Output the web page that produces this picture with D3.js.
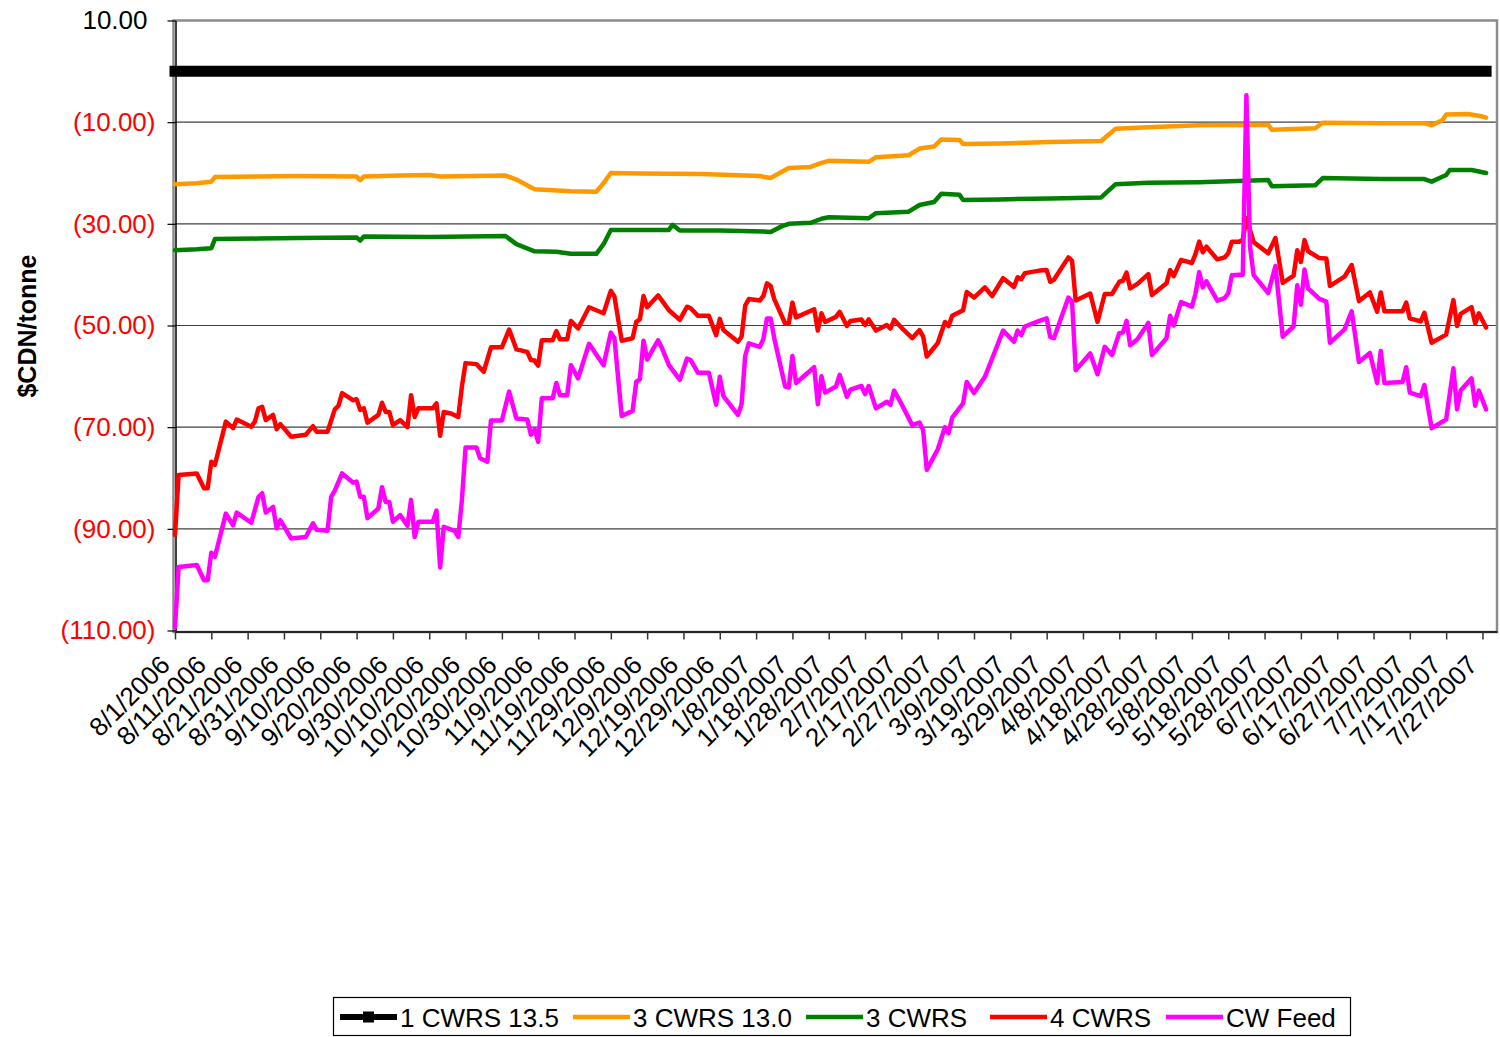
<!DOCTYPE html>
<html>
<head>
<meta charset="utf-8">
<script src="https://cdn.jsdelivr.net/npm/d3@7.9.0/dist/d3.min.js"></script>
<style>
  html, body { margin: 0; padding: 0; background: #fff; }
  svg { display: block; font-family: "Liberation Sans", Arial, sans-serif; }
</style>
</head>
<body>
<div id="chart"></div>
<script>
// wheat price spreads, $CDN/tonne
const cwrs135 = [["8/1/2006", 0], ["7/28/2007", 0]];

const cwrs3_130 = [
  ["8/1/2006",-22.2],["8/7/2006",-22.0],["8/11/2006",-21.7],["8/12/2006",-20.8],["8/24/2006",-20.7],["9/4/2006",-20.6],
  ["9/20/2006",-20.7],["9/21/2006",-21.4],["9/22/2006",-20.7],["10/2/2006",-20.5],["10/10/2006",-20.4],["10/13/2006",-20.7],
  ["10/31/2006",-20.5],["11/3/2006",-21.3],["11/8/2006",-23.2],["11/18/2006",-23.6],["11/25/2006",-23.7],["11/27/2006",-22.0],
  ["11/29/2006",-20.0],["12/7/2006",-20.1],["12/24/2006",-20.2],["1/9/2007",-20.6],["1/12/2007",-21.0],["1/14/2007",-20.2],
  ["1/17/2007",-19.0],["1/23/2007",-18.8],["1/26/2007",-18.0],["1/28/2007",-17.6],["2/8/2007",-17.8],["2/10/2007",-16.9],
  ["2/19/2007",-16.5],["2/22/2007",-15.2],["2/26/2007",-14.8],["2/28/2007",-13.4],["3/5/2007",-13.5],["3/6/2007",-14.3],
  ["3/16/2007",-14.2],["3/30/2007",-13.9],["4/13/2007",-13.7],["4/17/2007",-11.3],["4/26/2007",-11.0],["5/10/2007",-10.6],
  ["5/29/2007",-10.5],["5/30/2007",-11.5],["6/11/2007",-11.2],["6/13/2007",-10.1],["6/29/2007",-10.2],["7/11/2007",-10.2],
  ["7/13/2007",-10.6],["7/16/2007",-9.6],["7/17/2007",-8.5],["7/23/2007",-8.4],["7/27/2007",-8.9],["7/28/2007",-9.1]
];

const cwrs3 = [
  ["8/1/2006",-35.2],["8/7/2006",-35.0],["8/11/2006",-34.8],["8/12/2006",-33.0],["8/24/2006",-32.9],["9/4/2006",-32.8],
  ["9/20/2006",-32.7],["9/21/2006",-33.3],["9/22/2006",-32.5],["10/10/2006",-32.6],["10/31/2006",-32.4],["11/3/2006",-34.0],
  ["11/8/2006",-35.4],["11/14/2006",-35.5],["11/18/2006",-35.9],["11/25/2006",-35.9],["11/27/2006",-34.0],["11/29/2006",-31.2],
  ["12/15/2006",-31.2],["12/16/2006",-30.2],["12/18/2006",-31.3],["12/29/2006",-31.3],["1/10/2007",-31.5],["1/12/2007",-31.6],
  ["1/15/2007",-30.5],["1/17/2007",-30.0],["1/23/2007",-29.8],["1/26/2007",-29.0],["1/28/2007",-28.7],["2/8/2007",-28.9],
  ["2/10/2007",-27.9],["2/19/2007",-27.6],["2/22/2007",-26.3],["2/26/2007",-25.7],["2/28/2007",-24.1],["3/5/2007",-24.3],
  ["3/6/2007",-25.3],["3/16/2007",-25.2],["3/30/2007",-25.0],["4/13/2007",-24.8],["4/17/2007",-22.2],["4/26/2007",-21.9],
  ["5/10/2007",-21.8],["5/29/2007",-21.4],["5/30/2007",-22.6],["6/11/2007",-22.4],["6/13/2007",-21.0],["6/29/2007",-21.2],
  ["7/11/2007",-21.2],["7/13/2007",-21.7],["7/17/2007",-20.4],["7/18/2007",-19.4],["7/24/2007",-19.4],["7/26/2007",-19.7],
  ["7/28/2007",-20.0]
];

const cwrs4 = [
  ["8/1/2006",-91.2],["8/2/2006",-79.4],["8/7/2006",-79.1],["8/9/2006",-82.0],["8/10/2006",-82.0],["8/11/2006",-76.8],
  ["8/12/2006",-77.4],["8/15/2006",-68.9],["8/17/2006",-70.2],["8/18/2006",-68.5],["8/22/2006",-69.9],["8/23/2006",-68.9],
  ["8/24/2006",-66.3],["8/25/2006",-66.0],["8/26/2006",-68.6],["8/28/2006",-67.6],["8/29/2006",-70.4],["8/30/2006",-69.4],
  ["9/2/2006",-71.9],["9/6/2006",-71.5],["9/8/2006",-69.8],["9/9/2006",-70.9],["9/12/2006",-70.9],["9/14/2006",-66.5],
  ["9/15/2006",-65.8],["9/16/2006",-63.3],["9/19/2006",-64.7],["9/20/2006",-64.5],["9/21/2006",-66.6],["9/22/2006",-66.3],
  ["9/23/2006",-69.1],["9/26/2006",-67.6],["9/27/2006",-65.2],["9/28/2006",-67.0],["9/29/2006",-67.0],["9/30/2006",-69.6],
  ["10/2/2006",-68.6],["10/4/2006",-70.0],["10/5/2006",-63.7],["10/6/2006",-68.0],["10/7/2006",-66.3],["10/11/2006",-66.3],
  ["10/12/2006",-65.3],["10/13/2006",-71.7],["10/14/2006",-67.0],["10/16/2006",-67.3],["10/18/2006",-68.0],["10/19/2006",-62.0],
  ["10/20/2006",-57.4],["10/23/2006",-57.6],["10/25/2006",-59.1],["10/27/2006",-54.3],["10/30/2006",-54.3],["11/1/2006",-50.8],
  ["11/3/2006",-54.7],["11/6/2006",-55.2],["11/7/2006",-56.8],["11/8/2006",-56.9],["11/9/2006",-57.9],["11/10/2006",-52.9],
  ["11/13/2006",-52.9],["11/14/2006",-51.1],["11/15/2006",-52.7],["11/17/2006",-52.7],["11/18/2006",-49.1],["11/20/2006",-50.6],
  ["11/23/2006",-46.4],["11/27/2006",-47.6],["11/29/2006",-43.2],["11/30/2006",-44.3],["12/2/2006",-53.0],["12/5/2006",-52.5],
  ["12/6/2006",-49.3],["12/7/2006",-48.8],["12/8/2006",-44.2],["12/9/2006",-46.4],["12/12/2006",-44.1],["12/13/2006",-45.0],
  ["12/15/2006",-47.0],["12/18/2006",-48.9],["12/20/2006",-46.3],["12/21/2006",-46.6],["12/23/2006",-48.1],["12/26/2006",-48.1],
  ["12/28/2006",-51.9],["12/29/2006",-48.7],["12/30/2006",-50.9],["1/3/2007",-53.2],["1/4/2007",-52.2],["1/5/2007",-46.1],
  ["1/6/2007",-44.8],["1/9/2007",-45.1],["1/10/2007",-44.2],["1/11/2007",-41.7],["1/12/2007",-42.2],["1/13/2007",-44.8],
  ["1/16/2007",-49.6],["1/17/2007",-49.6],["1/18/2007",-45.5],["1/19/2007",-48.4],["1/24/2007",-46.8],["1/25/2007",-51.0],
  ["1/26/2007",-47.6],["1/27/2007",-49.3],["1/30/2007",-48.3],["1/31/2007",-47.3],["2/2/2007",-50.1],["2/3/2007",-49.1],
  ["2/6/2007",-48.8],["2/7/2007",-49.9],["2/8/2007",-48.8],["2/10/2007",-51.0],["2/13/2007",-49.9],["2/14/2007",-50.6],
  ["2/15/2007",-48.9],["2/17/2007",-50.4],["2/20/2007",-52.5],["2/22/2007",-50.9],["2/23/2007",-52.2],["2/24/2007",-56.1],
  ["2/27/2007",-53.5],["3/1/2007",-49.3],["3/2/2007",-50.1],["3/3/2007",-48.1],["3/6/2007",-47.0],["3/7/2007",-43.4],
  ["3/9/2007",-44.5],["3/12/2007",-42.5],["3/14/2007",-44.2],["3/17/2007",-40.7],["3/20/2007",-42.4],["3/21/2007",-40.5],
  ["3/22/2007",-40.9],["3/23/2007",-39.7],["3/27/2007",-39.2],["3/29/2007",-39.1],["3/30/2007",-41.4],["3/31/2007",-41.0],
  ["4/2/2007",-38.8],["4/4/2007",-36.6],["4/5/2007",-37.3],["4/6/2007",-45.1],["4/10/2007",-43.7],["4/12/2007",-49.3],
  ["4/14/2007",-43.8],["4/16/2007",-43.8],["4/18/2007",-41.4],["4/19/2007",-41.2],["4/20/2007",-39.6],["4/21/2007",-42.7],
  ["4/23/2007",-41.8],["4/26/2007",-39.9],["4/27/2007",-44.0],["5/1/2007",-41.7],["5/2/2007",-39.1],["5/3/2007",-40.3],
  ["5/5/2007",-37.1],["5/8/2007",-37.7],["5/9/2007",-35.9],["5/10/2007",-33.5],["5/11/2007",-35.6],["5/12/2007",-34.5],
  ["5/15/2007",-37.0],["5/17/2007",-36.6],["5/18/2007",-35.8],["5/19/2007",-33.5],["5/21/2007",-33.5],["5/22/2007",-33.2],
  ["5/23/2007",-28.9],["5/25/2007",-33.6],["5/29/2007",-35.8],["5/31/2007",-32.8],["6/2/2007",-41.6],["6/5/2007",-40.2],
  ["6/6/2007",-35.2],["6/7/2007",-37.5],["6/8/2007",-33.2],["6/9/2007",-35.4],["6/12/2007",-36.7],["6/14/2007",-36.8],
  ["6/15/2007",-42.2],["6/19/2007",-40.4],["6/21/2007",-38.1],["6/23/2007",-45.2],["6/26/2007",-43.5],["6/28/2007",-47.3],
  ["6/29/2007",-43.5],["6/30/2007",-47.2],["7/5/2007",-47.2],["7/6/2007",-45.5],["7/7/2007",-48.6],["7/10/2007",-49.2],
  ["7/11/2007",-47.5],["7/13/2007",-53.4],["7/17/2007",-51.8],["7/19/2007",-45.0],["7/20/2007",-50.1],["7/21/2007",-47.7],
  ["7/24/2007",-46.4],["7/25/2007",-49.6],["7/26/2007",-47.6],["7/28/2007",-50.4]
];

const cwFeed = [
  ["8/1/2006",-109.4],["8/2/2006",-97.5],["8/7/2006",-97.1],["8/9/2006",-100.1],["8/10/2006",-100.1],["8/11/2006",-94.7],
  ["8/12/2006",-95.5],["8/15/2006",-87.0],["8/17/2006",-89.3],["8/18/2006",-86.8],["8/22/2006",-88.8],["8/24/2006",-83.7],
  ["8/25/2006",-83.0],["8/26/2006",-86.8],["8/28/2006",-85.7],["8/29/2006",-89.9],["8/30/2006",-88.3],["9/2/2006",-91.9],
  ["9/6/2006",-91.6],["9/8/2006",-88.9],["9/9/2006",-90.2],["9/12/2006",-90.4],["9/13/2006",-83.7],["9/14/2006",-82.5],
  ["9/16/2006",-79.1],["9/19/2006",-80.9],["9/20/2006",-80.7],["9/21/2006",-83.7],["9/22/2006",-83.7],["9/23/2006",-87.9],
  ["9/26/2006",-86.0],["9/27/2006",-81.8],["9/28/2006",-84.7],["9/29/2006",-84.7],["9/30/2006",-88.6],["10/2/2006",-87.3],
  ["10/4/2006",-89.4],["10/5/2006",-84.3],["10/6/2006",-91.6],["10/7/2006",-88.6],["10/11/2006",-88.6],["10/12/2006",-86.4],
  ["10/13/2006",-97.6],["10/14/2006",-89.6],["10/17/2006",-90.4],["10/18/2006",-91.6],["10/19/2006",-84.3],["10/20/2006",-74.0],
  ["10/23/2006",-74.0],["10/24/2006",-76.1],["10/26/2006",-76.8],["10/27/2006",-68.7],["10/30/2006",-68.7],["11/1/2006",-63.0],
  ["11/3/2006",-68.3],["11/6/2006",-68.5],["11/7/2006",-71.5],["11/8/2006",-70.4],["11/9/2006",-72.9],["11/10/2006",-64.3],
  ["11/13/2006",-64.3],["11/14/2006",-61.3],["11/15/2006",-63.7],["11/17/2006",-63.7],["11/18/2006",-57.8],["11/20/2006",-60.4],
  ["11/23/2006",-53.6],["11/27/2006",-57.8],["11/29/2006",-51.4],["11/30/2006",-52.5],["12/2/2006",-67.8],["12/5/2006",-66.8],
  ["12/6/2006",-61.1],["12/7/2006",-60.6],["12/8/2006",-53.0],["12/9/2006",-56.7],["12/12/2006",-52.9],["12/13/2006",-54.3],
  ["12/15/2006",-57.8],["12/18/2006",-60.7],["12/20/2006",-56.5],["12/21/2006",-56.8],["12/23/2006",-59.3],["12/26/2006",-59.3],
  ["12/28/2006",-65.6],["12/29/2006",-60.1],["12/30/2006",-63.9],["1/3/2007",-67.6],["1/4/2007",-65.5],["1/5/2007",-56.0],
  ["1/6/2007",-53.5],["1/9/2007",-54.2],["1/10/2007",-52.7],["1/11/2007",-48.6],["1/12/2007",-48.6],["1/13/2007",-52.5],
  ["1/16/2007",-62.0],["1/17/2007",-62.2],["1/18/2007",-56.0],["1/19/2007",-61.3],["1/24/2007",-58.2],["1/25/2007",-65.5],
  ["1/26/2007",-60.0],["1/27/2007",-63.2],["1/30/2007",-62.0],["1/31/2007",-59.7],["2/2/2007",-64.0],["2/3/2007",-62.6],
  ["2/6/2007",-61.9],["2/7/2007",-63.5],["2/8/2007",-61.9],["2/10/2007",-66.3],["2/13/2007",-65.0],["2/14/2007",-65.6],
  ["2/15/2007",-62.8],["2/17/2007",-65.4],["2/20/2007",-69.6],["2/22/2007",-69.1],["2/23/2007",-70.6],["2/24/2007",-78.4],
  ["2/27/2007",-74.4],["3/1/2007",-70.0],["3/2/2007",-71.2],["3/3/2007",-68.1],["3/6/2007",-65.3],["3/7/2007",-61.1],
  ["3/9/2007",-63.3],["3/12/2007",-60.1],["3/14/2007",-56.5],["3/17/2007",-51.0],["3/20/2007",-53.2],["3/21/2007",-51.0],
  ["3/22/2007",-51.9],["3/23/2007",-50.2],["3/27/2007",-49.1],["3/29/2007",-48.6],["3/30/2007",-52.3],["3/31/2007",-52.5],
  ["4/4/2007",-44.5],["4/5/2007",-45.3],["4/6/2007",-58.8],["4/10/2007",-55.5],["4/12/2007",-59.6],["4/14/2007",-54.2],
  ["4/16/2007",-55.8],["4/18/2007",-51.5],["4/19/2007",-51.4],["4/20/2007",-49.1],["4/21/2007",-53.9],["4/23/2007",-52.7],
  ["4/26/2007",-49.5],["4/27/2007",-55.8],["5/1/2007",-52.5],["5/2/2007",-48.1],["5/3/2007",-50.0],["5/5/2007",-45.4],
  ["5/8/2007",-46.3],["5/9/2007",-43.7],["5/10/2007",-39.5],["5/11/2007",-42.5],["5/12/2007",-41.3],["5/15/2007",-45.1],
  ["5/17/2007",-44.6],["5/18/2007",-43.7],["5/19/2007",-40.1],["5/21/2007",-40.0],["5/22/2007",-40.0],["5/23/2007",-4.7],
  ["5/24/2007",-34.5],["5/25/2007",-40.1],["5/29/2007",-43.6],["5/31/2007",-38.3],["6/2/2007",-52.2],["6/5/2007",-50.2],
  ["6/6/2007",-42.1],["6/7/2007",-45.9],["6/8/2007",-39.0],["6/9/2007",-42.7],["6/12/2007",-44.7],["6/14/2007",-45.3],
  ["6/15/2007",-53.4],["6/19/2007",-50.8],["6/21/2007",-47.2],["6/23/2007",-57.2],["6/26/2007",-55.4],["6/28/2007",-61.3],
  ["6/29/2007",-55.0],["6/30/2007",-61.3],["7/5/2007",-61.1],["7/6/2007",-58.2],["7/7/2007",-63.2],["7/10/2007",-63.9],
  ["7/11/2007",-61.7],["7/13/2007",-70.2],["7/17/2007",-68.5],["7/19/2007",-58.4],["7/20/2007",-66.5],["7/21/2007",-62.8],
  ["7/24/2007",-60.4],["7/25/2007",-65.8],["7/26/2007",-62.8],["7/28/2007",-66.5]
];

const xTickLabels = [
  "8/1/2006","8/11/2006","8/21/2006","8/31/2006","9/10/2006","9/20/2006","9/30/2006","10/10/2006","10/20/2006",
  "10/30/2006","11/9/2006","11/19/2006","11/29/2006","12/9/2006","12/19/2006","12/29/2006","1/8/2007","1/18/2007",
  "1/28/2007","2/7/2007","2/17/2007","2/27/2007","3/9/2007","3/19/2007","3/29/2007","4/8/2007","4/18/2007",
  "4/28/2007","5/8/2007","5/18/2007","5/28/2007","6/7/2007","6/17/2007","6/27/2007","7/7/2007","7/17/2007","7/27/2007"
];
const yTicks = [10, -10, -30, -50, -70, -90, -110];
const xDomain = ["8/1/2006", "7/31/2007"];
const yDomain = [-110, 10];

const seriesNames = ["1 CWRS 13.5", "3 CWRS 13.0", "3 CWRS", "4 CWRS", "CW Feed"];
const seriesColors = ["#000000", "#FF9900", "#008000", "#FF0000", "#FF00FF"];

const parse = d3.timeParse("%m/%d/%Y");
const width = 1500, height = 1037;
const plot = { left: 175, right: 1497, top: 20.5, bottom: 630.5 };

const svg = d3.select('#chart').append('svg')
  .attr('width', width)
  .attr('height', height);

const x = d3.scaleTime().domain(xDomain.map(parse)).range([plot.left, plot.right]);
const y = d3.scaleLinear().domain(yDomain).range([plot.bottom, plot.top]);

// gridlines
svg.append('g')
  .selectAll('line')
  .data(yTicks.filter(d => d !== 10 && d !== -110))
  .join('line')
  .attr('x1', plot.left).attr('x2', plot.right)
  .attr('y1', d => y(d)).attr('y2', d => y(d))
  .attr('stroke', '#404040')
  .attr('stroke-width', 1.2);

// plot frame
svg.append('rect')
  .attr('x', plot.left - 1.5).attr('y', plot.top)
  .attr('width', plot.right - plot.left + 1.5)
  .attr('height', plot.bottom - plot.top + 1.5)
  .attr('fill', 'none')
  .attr('stroke', '#8c8c8c')
  .attr('stroke-width', 2.5);

// y axis
const fmt = d3.format('.2f');
const yAxis = svg.append('g')
  .attr('transform', `translate(${plot.left + 0.5},0)`)
  .call(d3.axisLeft(y).tickValues(yTicks).tickSize(8).tickSizeOuter(0)
    .tickFormat(d => d < 0 ? `(${fmt(-d)})` : fmt(d)));
yAxis.select('.domain').attr('stroke', '#000').attr('stroke-width', 1.5);
yAxis.selectAll('.tick line').attr('stroke', '#000').attr('stroke-width', 1.2);
yAxis.selectAll('.tick text')
  .attr('x', d => d < 0 ? -20 : -28)
  .attr('font-size', 26)
  .attr('fill', d => d < 0 ? '#FF0000' : '#000');

// x axis
const tickDates = xTickLabels.map(parse);
const xAxis = svg.append('g')
  .attr('transform', `translate(0,${plot.bottom + 1})`)
  .call(d3.axisBottom(x).tickValues(tickDates).tickSize(8).tickSizeOuter(0)
    .tickFormat((d, i) => xTickLabels[i]));
xAxis.select('.domain').attr('stroke', '#000').attr('stroke-width', 1.5);
xAxis.selectAll('.tick line').attr('stroke', '#333').attr('stroke-width', 1.5);
xAxis.selectAll('.tick text')
  .attr('font-size', 26)
  .attr('fill', '#000')
  .attr('text-anchor', 'end')
  .attr('dy', 0)
  .attr('y', 0)
  .attr('transform', 'translate(-4,35) rotate(-45)');

// y title
svg.append('text')
  .attr('transform', 'translate(36,326) rotate(-90)')
  .attr('text-anchor', 'middle')
  .attr('font-size', 25)
  .attr('font-weight', 'bold')
  .text('$CDN/tonne');

// series
const line = d3.line()
  .x(d => x(parse(d[0])))
  .y(d => y(d[1]));

const allSeries = [cwrs135, cwrs3_130, cwrs3, cwrs4, cwFeed];
const lines = svg.append('g');
allSeries.forEach((data, i) => {
  lines.append('path')
    .datum(data)
    .attr('d', line)
    .attr('fill', 'none')
    .attr('stroke', seriesColors[i])
    .attr('stroke-width', i === 0 ? 11 : 4.5)
    .attr('stroke-linecap', i === 0 ? 'square' : 'round')
    .attr('stroke-linejoin', 'round');
});

// legend
const legendX = [340, 573, 806, 990, 1166];
const legend = svg.append('g');
legend.append('rect')
  .attr('x', 333.5).attr('y', 997.5)
  .attr('width', 1017).attr('height', 38)
  .attr('fill', '#fff')
  .attr('stroke', '#000')
  .attr('stroke-width', 1.2);

seriesNames.forEach((name, i) => {
  const lx = legendX[i];
  legend.append('line')
    .attr('x1', lx).attr('x2', lx + 57)
    .attr('y1', 1017).attr('y2', 1017)
    .attr('stroke', seriesColors[i])
    .attr('stroke-width', i === 0 ? 6 : 4.5);
  if (i === 0) {
    legend.append('rect')
      .attr('x', lx + 23).attr('y', 1011.5)
      .attr('width', 11).attr('height', 11)
      .attr('fill', '#000');
  }
  legend.append('text')
    .attr('x', lx + 60).attr('y', 1026.5)
    .attr('font-size', 26)
    .text(name);
});
</script>
</body>
</html>
